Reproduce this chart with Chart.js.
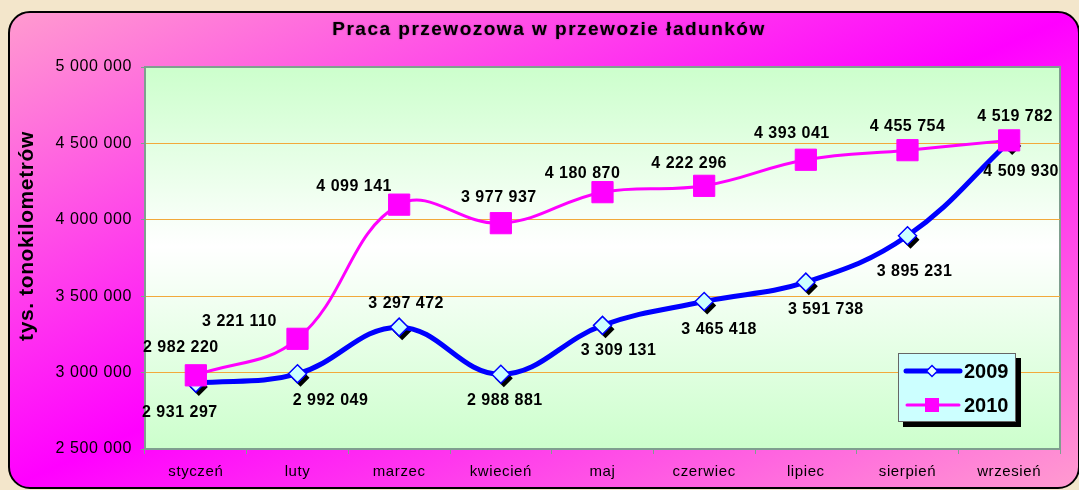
<!DOCTYPE html>
<html>
<head>
<meta charset="utf-8">
<script src="https://cdn.jsdelivr.net/npm/chart.js@4.4.0/dist/chart.umd.min.js"></script>
<style>
  html, body { margin: 0; padding: 0; background: #f3e6cb; overflow: hidden; }
  #wrap { position: relative; width: 1079px; height: 490px; }
  #panel {
    position: absolute; left: 8px; top: 11px; width: 1068px; height: 474px;
    border: 2px solid #000; border-radius: 22px;
    background: linear-gradient(to bottom right, #ff9bcf 0%, #ff00ff 50%, #ff9bcf 100%);
  }
  canvas { position: absolute; left: 0; top: 0; }
</style>
</head>
<body>
<div id="wrap">
  <div id="panel"></div>
  <canvas id="chart" width="1079" height="490"></canvas>
</div>
<script>
// data
const months = ['styczeń', 'luty', 'marzec', 'kwiecień', 'maj', 'czerwiec', 'lipiec', 'sierpień', 'wrzesień'];
const values2009 = [2931297, 2992049, 3297472, 2988881, 3309131, 3465418, 3591738, 3895231, 4509930];
const values2010 = [2982220, 3221110, 4099141, 3977937, 4180870, 4222296, 4393041, 4455754, 4519782];
const seriesNames = ['2009', '2010'];
const yMin = 2500000;
const yMax = 5000000;
const yStep = 500000;
const chartTitle = 'Praca przewozowa w przewozie ładunków';
const yTitle = 'tys. tonokilometrów';

// where each value label sits relative to its point (px)
const labelShift2009 = [[-16, 29], [33, 27], [7, -24], [4, 26], [16, 25], [15, 28], [20, 27], [7, 36], [12, 30]];
const labelShift2010 = [[-15, -28], [-58, -17], [-45, -18], [-2, -26], [-20, -19], [-15, -22], [-14, -26], [0, -24], [6, -24]];

const axisGrey = '#7f9f8f';
const font = "'Liberation Sans', Arial, sans-serif";

function fmt(v) {
  return String(v).replace(/\B(?=(\d{3})+(?!\d))/g, ' ');
}

function diamond(ctx, x, y, r) {
  ctx.beginPath();
  ctx.moveTo(x - r, y);
  ctx.lineTo(x, y - r);
  ctx.lineTo(x + r, y);
  ctx.lineTo(x, y + r);
  ctx.closePath();
}

const decor = {
  id: 'decor',
  beforeDraw(chart) {
    const ctx = chart.ctx, a = chart.chartArea;
    ctx.letterSpacing = '0.6px';
    ctx.save();
    const g = ctx.createLinearGradient(0, a.top, 0, a.bottom);
    g.addColorStop(0, '#ccffcc');
    g.addColorStop(0.47, '#ffffff');
    g.addColorStop(1, '#ccffcc');
    ctx.fillStyle = g;
    ctx.fillRect(a.left, a.top, a.right - a.left, a.bottom - a.top);
    // top and right frame of the plot
    ctx.strokeStyle = axisGrey;
    ctx.lineWidth = 2;
    ctx.beginPath();
    ctx.moveTo(a.left, a.top);
    ctx.lineTo(a.right, a.top);
    ctx.lineTo(a.right, a.bottom);
    ctx.stroke();
    // title
    ctx.fillStyle = '#000';
    ctx.textAlign = 'center';
    ctx.textBaseline = 'middle';
    ctx.font = 'bold 19px ' + font;
    ctx.letterSpacing = '1.5px';
    ctx.shadowColor = 'rgba(0,0,0,0.45)';
    ctx.shadowBlur = 1.5;
    ctx.fillText(chartTitle, 549, 30);
    ctx.shadowColor = 'transparent';
    // y axis title
    ctx.translate(27, 236);
    ctx.rotate(-Math.PI / 2);
    ctx.font = 'bold 21px ' + font;
    ctx.letterSpacing = '0.6px';
    ctx.fillText(yTitle, 0, 0);
    ctx.restore();
  },
  beforeDatasetsDraw(chart) {
    // black drop shadow under the 2009 diamonds
    const ctx = chart.ctx;
    ctx.save();
    ctx.fillStyle = '#000';
    chart.getDatasetMeta(0).data.forEach(p => {
      diamond(ctx, p.x + 3, p.y + 4, 9);
      ctx.fill();
    });
    ctx.restore();
  },
  afterDatasetsDraw(chart) {
    const ctx = chart.ctx;
    const shifts = [labelShift2009, labelShift2010];
    ctx.save();
    ctx.fillStyle = '#000';
    ctx.font = 'bold 16px ' + font;
    ctx.letterSpacing = '0.5px';
    ctx.textAlign = 'center';
    ctx.textBaseline = 'middle';
    chart.data.datasets.forEach((ds, i) => {
      chart.getDatasetMeta(i).data.forEach((p, j) => {
        ctx.fillText(fmt(ds.data[j]), p.x + shifts[i][j][0], p.y + shifts[i][j][1]);
      });
    });
    ctx.restore();
  },
  afterDraw(chart) {
    // legend box inside the plot
    const ctx = chart.ctx, a = chart.chartArea;
    const bx = a.right - 162, by = a.bottom - 96, bw = 118, bh = 69;
    ctx.save();
    ctx.fillStyle = '#000';
    ctx.fillRect(bx + 5, by + 5, bw, bh);
    ctx.fillStyle = '#ccffff';
    ctx.fillRect(bx, by, bw, bh);
    ctx.strokeStyle = '#666';
    ctx.lineWidth = 1;
    ctx.strokeRect(bx + 0.5, by + 0.5, bw - 1, bh - 1);
    const rows = [by + 18, by + 52];
    ctx.lineCap = 'round';
    // 2009
    ctx.strokeStyle = '#0000ff';
    ctx.lineWidth = 5;
    ctx.beginPath(); ctx.moveTo(bx + 8, rows[0]); ctx.lineTo(bx + 62, rows[0]); ctx.stroke();
    diamond(ctx, bx + 34, rows[0], 5.5);
    ctx.fillStyle = '#eaffff'; ctx.fill();
    ctx.lineWidth = 1.5; ctx.stroke();
    // 2010
    ctx.strokeStyle = '#ff00ff';
    ctx.lineWidth = 3;
    ctx.beginPath(); ctx.moveTo(bx + 9, rows[1]); ctx.lineTo(bx + 61, rows[1]); ctx.stroke();
    ctx.fillStyle = '#ff00ff';
    ctx.fillRect(bx + 27, rows[1] - 7, 14, 14);
    // names
    ctx.fillStyle = '#000';
    ctx.font = 'bold 20px ' + font;
    ctx.letterSpacing = '0px';
    ctx.textAlign = 'left';
    ctx.textBaseline = 'middle';
    ctx.fillText(seriesNames[0], bx + 66, rows[0] + 1);
    ctx.fillText(seriesNames[1], bx + 66, rows[1] + 1);
    ctx.restore();
  }
};

Chart.defaults.font.family = font;

new Chart(document.getElementById('chart'), {
  type: 'line',
  data: {
    labels: months,
    datasets: [
      {
        label: seriesNames[0],
        data: values2009,
        order: 2,
        borderColor: '#0000ff',
        borderWidth: 5,
        tension: 0.4,
        pointStyle: 'rectRot',
        pointRadius: 9,
        pointBackgroundColor: '#ccffff',
        pointBorderColor: '#0000ff',
        pointBorderWidth: 1.5
      },
      {
        label: seriesNames[1],
        data: values2010,
        order: 1,
        borderColor: '#ff00ff',
        borderWidth: 3,
        tension: 0.4,
        pointStyle: 'rect',
        pointRadius: 15,
        pointBackgroundColor: '#ff00ff',
        pointBorderColor: '#ff00ff',
        pointBorderWidth: 1
      }
    ]
  },
  options: {
    responsive: false,
    animation: false,
    events: [],
    devicePixelRatio: 1,
    layout: { padding: { top: 67, right: 19, left: 0, bottom: 0 } },
    plugins: {
      legend: { display: false },
      tooltip: { enabled: false }
    },
    scales: {
      x: {
        offset: true,
        grid: { offset: true, drawOnChartArea: false, tickLength: 5, tickColor: axisGrey },
        border: { color: axisGrey, width: 2 },
        ticks: { color: '#000', font: { size: 15 }, padding: 9, maxRotation: 0 },
        afterFit(s) { s.height = 41; }
      },
      y: {
        min: yMin,
        max: yMax,
        ticks: { stepSize: yStep, callback: v => fmt(v), color: '#000', font: { size: 16 }, padding: 9 },
        grid: {
          color: c => (c.tick && (c.tick.value === yMin || c.tick.value === yMax)) ? 'rgba(0,0,0,0)' : '#f2a93b',
          tickLength: 4,
          tickColor: axisGrey
        },
        border: { color: axisGrey, width: 2 },
        afterFit(s) { s.width = 145; }
      }
    }
  },
  plugins: [decor]
});
</script>
</body>
</html>
